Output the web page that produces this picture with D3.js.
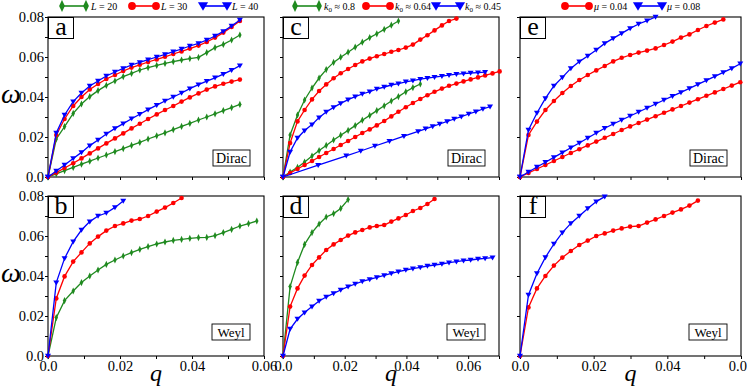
<!DOCTYPE html>
<html>
<head>
<meta charset="utf-8">
<script src="https://cdn.jsdelivr.net/npm/d3@7"></script>
<style>
body { margin: 0; background: #fff; }
</style>
</head>
<body>
<div id="graph"></div>
<script>
// q grids shared by the series of each column
var qAB = [0, 0.0023, 0.0046, 0.0070, 0.0093, 0.0116, 0.0139, 0.0162, 0.0186, 0.0209,
  0.0232, 0.0255, 0.0278, 0.0302, 0.0325, 0.0348, 0.0371, 0.0394, 0.0418, 0.0441,
  0.0464, 0.0487, 0.0510, 0.0533, 0.0557, 0.0580];
var qCD = [0, 0.0023, 0.0047, 0.0070, 0.0094, 0.0117, 0.0140, 0.0164, 0.0187, 0.0211,
  0.0234, 0.0257, 0.0281, 0.0304, 0.0328, 0.0351, 0.0374, 0.0398, 0.0421, 0.0445,
  0.0468, 0.0491, 0.0515, 0.0538, 0.0562, 0.0585, 0.0608, 0.0632, 0.0655, 0.0679, 0.0702];
var qEF = [0, 0.0023, 0.0046, 0.0069, 0.0092, 0.0115, 0.0138, 0.0161, 0.0184, 0.0207,
  0.0230, 0.0253, 0.0276, 0.0299, 0.0322, 0.0345, 0.0368, 0.0391, 0.0414, 0.0437,
  0.0460, 0.0483, 0.0506, 0.0529, 0.0552, 0.0575, 0.0598];
// blue lower branch of panel c: sparser markers near the origin
var qC45lo = [0, 0.0114, 0.0205, 0.0252, 0.0298, 0.0345, 0.0392, 0.0438, 0.0462, 0.0485,
  0.0508, 0.0532, 0.0555, 0.0578, 0.0602, 0.0625, 0.0648, 0.0671];

// panel a (Dirac), L = 20 / 30 / 40, upper and lower branches
var wA20up = [0, 0.019, 0.0252, 0.0318, 0.0365, 0.0402, 0.0432, 0.0458, 0.048, 0.0502,
  0.0518, 0.0535, 0.0547, 0.0558, 0.0568, 0.0577, 0.0585, 0.0592, 0.0598, 0.0622,
  0.0647, 0.0663, 0.0685, 0.071];
var wA30up = [0, 0.021, 0.029, 0.0355, 0.040, 0.0438, 0.0465, 0.049, 0.051, 0.053,
  0.0547, 0.0561, 0.0575, 0.0588, 0.0601, 0.0615, 0.0628, 0.0642, 0.0657, 0.0675,
  0.0697, 0.0722, 0.075, 0.078];
var wA40up = [0, 0.022, 0.031, 0.0377, 0.042, 0.0455, 0.048, 0.0505, 0.0525, 0.0543,
  0.056, 0.0573, 0.0587, 0.060, 0.0613, 0.0627, 0.064, 0.0655, 0.0668, 0.0685,
  0.0705, 0.0728, 0.0755, 0.0785];
var wA20lo = [0, 0.0016, 0.0032, 0.0048, 0.0064, 0.0079, 0.0095, 0.011, 0.0127, 0.0142,
  0.0158, 0.0173, 0.019, 0.0206, 0.0221, 0.0237, 0.0253, 0.0268, 0.0285, 0.030,
  0.0316, 0.0332, 0.0347, 0.0363];
var wA30lo = [0, 0.0022, 0.0045, 0.0069, 0.0093, 0.0118, 0.0143, 0.0168, 0.0193, 0.0218,
  0.0243, 0.0266, 0.029, 0.0313, 0.0335, 0.0355, 0.0377, 0.0398, 0.0418, 0.0437,
  0.0453, 0.0466, 0.0477, 0.0487];
var wA40lo = [0, 0.003, 0.006, 0.0093, 0.0123, 0.0157, 0.0185, 0.0215, 0.0243, 0.0267,
  0.0291, 0.0314, 0.0337, 0.0359, 0.038, 0.040, 0.042, 0.0442, 0.0462, 0.0479,
  0.0496, 0.0514, 0.0534, 0.0557];

// panel b (Weyl), L = 20 / 30 / 40
var wB20 = [0, 0.0192, 0.0277, 0.0325, 0.0367, 0.040, 0.043, 0.0458, 0.048, 0.050,
  0.0517, 0.0533, 0.0547, 0.056, 0.057, 0.0578, 0.0583, 0.0588, 0.0592, 0.0593,
  0.0602, 0.0617, 0.0633, 0.065, 0.0662, 0.0675];
var wB30 = [0, 0.0288, 0.0398, 0.0472, 0.0518, 0.0563, 0.0597, 0.0627, 0.065, 0.0663,
  0.0677, 0.0685, 0.070, 0.0722, 0.0742, 0.0765, 0.079];
var wB40 = [0, 0.0367, 0.0488, 0.0572, 0.063, 0.0672, 0.070, 0.0715, 0.0743, 0.0775];

// panel c (Dirac), k0 = 0.8 / 0.64 / 0.45
var wC80up = [0, 0.021, 0.031, 0.0385, 0.0445, 0.0495, 0.0537, 0.0573, 0.0599, 0.0624,
  0.0649, 0.0674, 0.0697, 0.0716, 0.0738, 0.0759, 0.078];
var wC64up = [0, 0.017, 0.0278, 0.0335, 0.0388, 0.043, 0.0463, 0.0494, 0.0519, 0.054,
  0.056, 0.0578, 0.0592, 0.0604, 0.0615, 0.0626, 0.0635, 0.0647, 0.0662, 0.0687,
  0.0709, 0.0733, 0.0758, 0.078, 0.0792];
var wC45up = [0, 0.0125, 0.0195, 0.0232, 0.0262, 0.0297, 0.0325, 0.0348, 0.0368, 0.0387,
  0.0402, 0.0415, 0.0427, 0.044, 0.045, 0.046, 0.0467, 0.0476, 0.0482, 0.0489,
  0.0494, 0.0499, 0.0504, 0.0509, 0.0514, 0.0517, 0.052, 0.0522, 0.0524];
var wC80lo = [0, 0.0025, 0.0048, 0.0075, 0.0105, 0.0132, 0.0158, 0.0185, 0.0209, 0.0233,
  0.0257, 0.0284, 0.0308, 0.0332, 0.0356, 0.038, 0.0402, 0.0426, 0.0447, 0.0465];
var wC64lo = [0, 0.002, 0.004, 0.006, 0.008, 0.010, 0.012, 0.014, 0.016, 0.018,
  0.020, 0.022, 0.0238, 0.0258, 0.028, 0.0303, 0.0326, 0.0349, 0.037, 0.039,
  0.0409, 0.0426, 0.0442, 0.0456, 0.0467, 0.0478, 0.0488, 0.0498, 0.0508, 0.0518, 0.0528];
var wC45lo = [0, 0.0059, 0.0106, 0.013, 0.0155, 0.0179, 0.0204, 0.0228, 0.0241, 0.0253,
  0.0265, 0.0278, 0.029, 0.0302, 0.0315, 0.0327, 0.034, 0.0352];

// panel d (Weyl), k0 = 0.8 / 0.64 / 0.45
var wD80 = [0, 0.0347, 0.0468, 0.0558, 0.0617, 0.066, 0.0695, 0.0712, 0.0738, 0.0782];
var wD64 = [0, 0.0247, 0.0338, 0.0402, 0.0455, 0.0493, 0.053, 0.0558, 0.058, 0.0602,
  0.0618, 0.063, 0.0643, 0.065, 0.0655, 0.0672, 0.0688, 0.0705, 0.0725, 0.074,
  0.076, 0.0785];
var wD45 = [0, 0.0135, 0.0185, 0.0217, 0.0247, 0.0275, 0.0295, 0.0313, 0.033, 0.0347,
  0.036, 0.0373, 0.0383, 0.0393, 0.0403, 0.0413, 0.0422, 0.043, 0.0437, 0.0443,
  0.045, 0.0455, 0.046, 0.0467, 0.0472, 0.0477, 0.048, 0.0485, 0.0488, 0.0492];

// panel e (Dirac), mu = 0.04 / 0.08
var wE04up = [0, 0.021, 0.0277, 0.0335, 0.038, 0.042, 0.0455, 0.0485, 0.051, 0.0533,
  0.0555, 0.0578, 0.0596, 0.061, 0.0622, 0.0632, 0.0643, 0.066, 0.0677, 0.0697,
  0.0713, 0.0735, 0.0755, 0.0772, 0.0788];
var wE08up = [0, 0.0235, 0.032, 0.0393, 0.0455, 0.0498, 0.0543, 0.0577, 0.0605, 0.0635,
  0.0668, 0.0693, 0.0718, 0.0743, 0.0765, 0.0782, 0.080];
var wE04lo = [0, 0.002, 0.004, 0.006, 0.008, 0.010, 0.012, 0.0139, 0.0158, 0.0177,
  0.0196, 0.0215, 0.0235, 0.0253, 0.027, 0.0287, 0.0304, 0.0321, 0.0338, 0.0355,
  0.0372, 0.0389, 0.0406, 0.0423, 0.044, 0.0457, 0.0474];
var wE08lo = [0, 0.0025, 0.005, 0.0074, 0.0098, 0.0122, 0.0146, 0.017, 0.0195, 0.022,
  0.0244, 0.0265, 0.0285, 0.0305, 0.0325, 0.0345, 0.0365, 0.0385, 0.0404, 0.0423,
  0.0443, 0.0463, 0.0483, 0.0503, 0.0523, 0.0543, 0.0566];

// panel f (Weyl), mu = 0.04 / 0.08
var wF04 = [0, 0.0243, 0.0338, 0.040, 0.0452, 0.0492, 0.0525, 0.0555, 0.0577, 0.060,
  0.0613, 0.0627, 0.0638, 0.0647, 0.065, 0.0667, 0.0683, 0.070, 0.0717, 0.0733,
  0.0752, 0.0777];
var wF08 = [0, 0.0305, 0.0413, 0.0493, 0.056, 0.0617, 0.0663, 0.070, 0.0738, 0.0772, 0.0797];

// tick values
var xTicks06 = [0, 0.01, 0.02, 0.03, 0.04, 0.05, 0.06];
var xTicks07 = [0, 0.01, 0.02, 0.03, 0.04, 0.05, 0.06, 0.07];
var yTicksMinor = [0, 0.01, 0.02, 0.03, 0.04, 0.05, 0.06, 0.07, 0.08];
var yTicksMajor = [0, 0.02, 0.04, 0.06, 0.08];

// legend entries
var legendL = ['20', '30', '40'];
var legendK = ['0.8', '0.64', '0.45'];
var legendMu = ['0.04', '0.08'];

var colors = {green: '#1f8a1f', red: '#ff0000', blue: '#0000ff'};
// one family name, set on each text element
var serif = '"Liberation Serif"';

// layout: three columns, two rows
var cols = [
  {left: 48, width: 216, xmax: 0.06, xticks: xTicks06, yticks: yTicksMinor},
  {left: 283, width: 216, xmax: 0.07, xticks: xTicks07, yticks: yTicksMinor},
  {left: 520, width: 221, xmax: 0.06, xticks: xTicks06, yticks: yTicksMajor}
];
var rows = [{top: 17, height: 160}, {top: 196, height: 160}];

var svg = d3.select('#graph')
  .append('svg')
  .attr('width', 747)
  .attr('height', 391);

// marker shapes
var markerPath = {
  green: function(s) { return 'M0,' + (-3.6 * s) + 'L' + (1.7 * s) + ',0L0,' + (3.6 * s) + 'L' + (-1.7 * s) + ',0Z'; },
  blue: function(s) { return 'M' + (-3 * s) + ',' + (-2.2 * s) + 'L' + (3 * s) + ',' + (-2.2 * s) + 'L0,' + (2.8 * s) + 'Z'; }
};

var drawMarker = function(g, kind, cx, cy, s) {
  if (kind === 'red') {
    g.append('circle').attr('cx', cx).attr('cy', cy).attr('r', 2.3 * s)
      .attr('fill', colors.red);
  } else {
    g.append('path').attr('d', markerPath[kind](s))
      .attr('transform', 'translate(' + cx + ',' + cy + ')')
      .attr('fill', colors[kind]);
  }
};

var isMajor = function(d) {
  return Math.abs(d / 0.02 - Math.round(d / 0.02)) < 1e-6;
};
var fmt = function(d) { return d === 0 ? '0.0' : d.toFixed(2); };

var panels = [
  {id: 'a', col: 0, row: 0, tag: 'Dirac', series: [
    {q: qAB, w: wA20lo, kind: 'green'}, {q: qAB, w: wA30lo, kind: 'red'}, {q: qAB, w: wA40lo, kind: 'blue'},
    {q: qAB, w: wA20up, kind: 'green'}, {q: qAB, w: wA30up, kind: 'red'}, {q: qAB, w: wA40up, kind: 'blue'}]},
  {id: 'b', col: 0, row: 1, tag: 'Weyl', series: [
    {q: qAB, w: wB20, kind: 'green'}, {q: qAB, w: wB30, kind: 'red'}, {q: qAB, w: wB40, kind: 'blue'}]},
  {id: 'c', col: 1, row: 0, tag: 'Dirac', series: [
    {q: qCD, w: wC80lo, kind: 'green'}, {q: qCD, w: wC64lo, kind: 'red'}, {q: qC45lo, w: wC45lo, kind: 'blue'},
    {q: qCD, w: wC80up, kind: 'green'}, {q: qCD, w: wC64up, kind: 'red'}, {q: qCD, w: wC45up, kind: 'blue'}]},
  {id: 'd', col: 1, row: 1, tag: 'Weyl', series: [
    {q: qCD, w: wD80, kind: 'green'}, {q: qCD, w: wD64, kind: 'red'}, {q: qCD, w: wD45, kind: 'blue'}]},
  {id: 'e', col: 2, row: 0, tag: 'Dirac', series: [
    {q: qEF, w: wE04lo, kind: 'red'}, {q: qEF, w: wE08lo, kind: 'blue'},
    {q: qEF, w: wE04up, kind: 'red'}, {q: qEF, w: wE08up, kind: 'blue'}]},
  {id: 'f', col: 2, row: 1, tag: 'Weyl', series: [
    {q: qEF, w: wF04, kind: 'red'}, {q: qEF, w: wF08, kind: 'blue'}]}
];

var drawPanel = function(p) {
  var c = cols[p.col];
  var r = rows[p.row];
  var x = d3.scaleLinear().domain([0, c.xmax]).range([c.left, c.left + c.width]);
  var y = d3.scaleLinear().domain([0, 0.08]).range([r.top + r.height, r.top]);
  var g = svg.append('g');

  // x axis (labels only on the bottom row)
  var gx = g.append('g')
    .attr('transform', 'translate(0,' + (r.top + r.height) + ')')
    .call(d3.axisBottom(x).tickValues(c.xticks).tickSize(3).tickPadding(2)
      .tickFormat(function(d) { return (p.row === 1 && isMajor(d)) ? fmt(d) : ''; }));
  // y axis (labels only on the first column)
  var gy = g.append('g')
    .attr('transform', 'translate(' + c.left + ',0)')
    .call(d3.axisLeft(y).tickValues(c.yticks).tickSize(3).tickPadding(1)
      .tickFormat(function(d) { return (p.col === 0 && isMajor(d)) ? fmt(d) : ''; }));
  [gx, gy].forEach(function(a) {
    a.attr('font-family', null);
    a.select('.domain').remove();
    a.selectAll('text').attr('font-size', 14.5).attr('fill', '#000');
    a.selectAll('line').attr('stroke', '#000');
  });

  // frame
  g.append('rect')
    .attr('x', c.left).attr('y', r.top)
    .attr('width', c.width).attr('height', r.height)
    .attr('fill', 'none').attr('stroke', '#000').attr('stroke-width', 1.1);

  var line = d3.line()
    .x(function(d) { return x(d[0]); })
    .y(function(d) { return y(d[1]); });

  p.series.forEach(function(s) {
    var pts = s.w.map(function(w, i) { return [s.q[i], w]; });
    g.append('path')
      .datum(pts)
      .attr('d', line)
      .attr('fill', 'none')
      .attr('stroke', colors[s.kind])
      .attr('stroke-width', 1.3);
    pts.forEach(function(d) {
      drawMarker(g, s.kind, x(d[0]), y(d[1]), 1);
    });
  });

  // panel letter
  g.append('rect')
    .attr('x', c.left + 0.5).attr('y', r.top + 0.5)
    .attr('width', 25).attr('height', 21)
    .attr('fill', '#fff').attr('stroke', '#000').attr('stroke-width', 1);
  g.append('text')
    .attr('x', c.left + 13).attr('y', r.top + 18)
    .attr('text-anchor', 'middle')
    .attr('font-size', 26)
    .text(p.id);

  // Dirac / Weyl tag (Weyl boxes sit a little higher)
  var dirac = p.tag === 'Dirac';
  var tw = dirac ? 37 : 38;
  var tx = c.left + c.width - tw - 14;
  var ty = r.top + r.height - (dirac ? 27 : 32);
  g.append('rect')
    .attr('x', tx).attr('y', ty)
    .attr('width', tw).attr('height', 16)
    .attr('fill', '#fff').attr('stroke', '#000').attr('stroke-width', 0.9);
  g.append('text')
    .attr('x', tx + tw / 2).attr('y', ty + 12.5)
    .attr('text-anchor', 'middle')
    .attr('font-size', dirac ? 14 : 13)
    .text(p.tag);
};

panels.forEach(drawPanel);

// axis titles
rows.forEach(function(r) {
  svg.append('text')
    .attr('x', 11).attr('y', r.top + 86)
    .attr('text-anchor', 'middle')
    .attr('font-size', 28).attr('font-style', 'italic')
    .text('\u03c9');
});
cols.forEach(function(c) {
  svg.append('text')
    .attr('x', c.left + c.width / 2).attr('y', 381)
    .attr('text-anchor', 'middle')
    .attr('font-size', 24).attr('font-style', 'italic')
    .text('q');
});

// legends above the top row
var drawLegendItem = function(x0, kind, label) {
  var g = svg.append('g');
  g.append('line')
    .attr('x1', x0).attr('x2', x0 + 24)
    .attr('y1', 6).attr('y2', 6)
    .attr('stroke', colors[kind]).attr('stroke-width', 1.6);
  drawMarker(g, kind, x0, 6, 1.7);
  drawMarker(g, kind, x0 + 24, 6, 1.7);
  var t = g.append('text')
    .attr('x', x0 + 29).attr('y', 9.5)
    .attr('font-size', 10);
  label(t);
};

legendL.forEach(function(v, i) {
  drawLegendItem([62, 132, 203][i], ['green', 'red', 'blue'][i], function(t) {
    t.append('tspan').attr('font-style', 'italic').text('L');
    t.append('tspan').text(' = ' + v);
  });
});
legendK.forEach(function(v, i) {
  drawLegendItem([295, 366, 436][i], ['green', 'red', 'blue'][i], function(t) {
    t.append('tspan').attr('font-style', 'italic').text('k');
    t.append('tspan').attr('font-size', 7).attr('dy', 2).text('0');
    t.append('tspan').attr('dy', -2).text(' \u2248 ' + v);
  });
});
legendMu.forEach(function(v, i) {
  drawLegendItem([565, 638][i], ['red', 'blue'][i], function(t) {
    t.append('tspan').attr('font-style', 'italic').text('\u03bc');
    t.append('tspan').text(' = ' + v);
  });
});

// set the font on every text and tspan element itself
svg.selectAll('text, tspan').style('font-family', serif);
</script>
</body>
</html>
